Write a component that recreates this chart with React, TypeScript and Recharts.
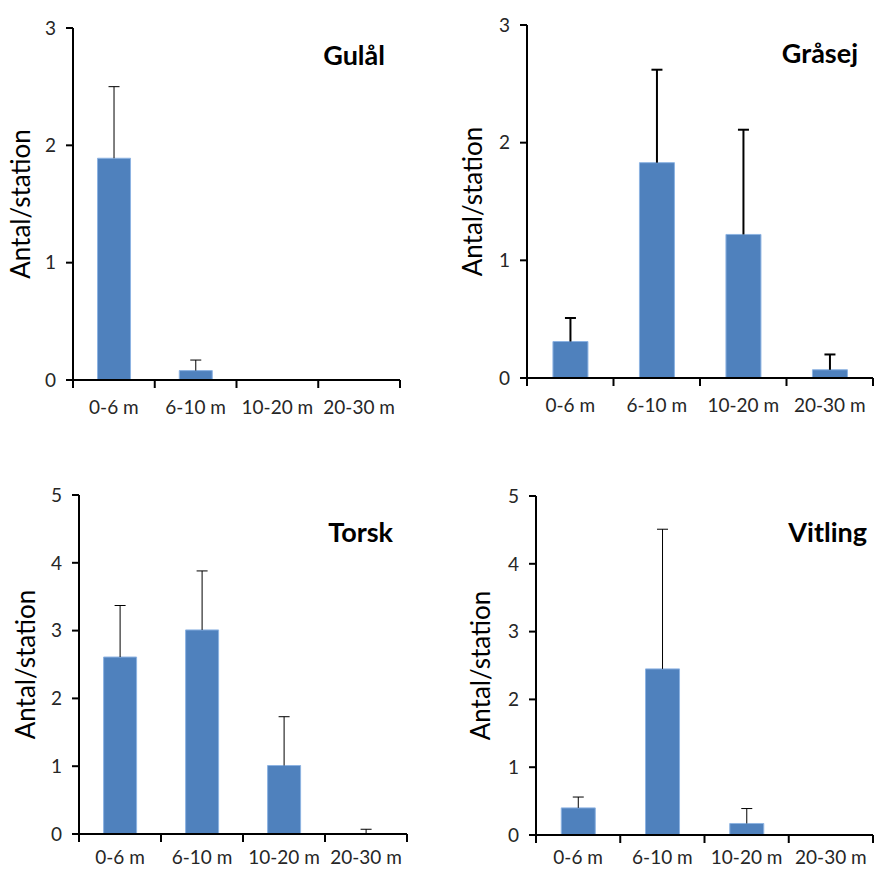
import { Bar, BarChart, XAxis, YAxis } from "recharts"

const depths = ["0-6 m", "6-10 m", "10-20 m", "20-30 m"]

const gulalMean = [1.89, 0.08, 0, 0]
const gulalErr = [0.61, 0.09, 0, 0]
const grasejMean = [0.31, 1.83, 1.22, 0.07]
const grasejErr = [0.2, 0.79, 0.89, 0.13]
const torskMean = [2.61, 3.01, 1.01, 0]
const torskErr = [0.76, 0.87, 0.72, 0.07]
const vitlingMean = [0.4, 2.45, 0.17, 0]
const vitlingErr = [0.16, 2.06, 0.22, 0]

const ticks3 = [0, 1, 2, 3]
const ticks5 = [0, 1, 2, 3, 4, 5]

const toRows = (mean: number[], err: number[]) =>
  depths.map((name, i) => ({ name, value: mean[i], err: err[i] }))

// upper whisker only, drawn on top of the stacked mean bar
const Whisker = (props: any) => {
  const { x, y, width, height, sw } = props
  if (!height || height <= 0) return null
  const cx = x + width / 2
  return (
    <g stroke="#000" strokeWidth={sw}>
      <line x1={cx} y1={y} x2={cx} y2={y + height} />
      <line x1={cx - 5.5} y1={y} x2={cx + 5.5} y2={y} />
    </g>
  )
}

// category label plus tick marks on the band edges
const DepthTick = (props: any) => {
  const { x, y, payload, index, gap } = props
  const half = payload.offset || 0
  const axisY = y - gap
  return (
    <g>
      <line x1={x - half} y1={axisY} x2={x - half} y2={axisY + 8} stroke="#000" strokeWidth={2} />
      {index === depths.length - 1 && (
        <line x1={x + half} y1={axisY} x2={x + half} y2={axisY + 8} stroke="#000" strokeWidth={2} />
      )}
      <text x={x} y={y} dy="0.71em" textAnchor="middle" fontSize={19} fill="#262626">
        {payload.value}
      </text>
    </g>
  )
}

type PanelProps = {
  title: string
  rows: { name: string; value: number; err: number }[]
  yTicks: number[]
  left: number
  top: number
  w: number
  h: number
  axisX: number
  plotTop: number
  plotBottom: number
  plotRight: number
  labelX: number
  titleRight: number
  titleBase: number
  sw: number
  gap: number
}

const Panel = (p: PanelProps) => {
  const xh = 34
  return (
    <div style={{ position: "absolute", left: p.left, top: p.top, width: p.w, height: p.h }}>
      <BarChart
        width={p.w}
        height={p.h}
        data={p.rows}
        barCategoryGap="30%"
        margin={{ top: p.plotTop, right: p.w - p.plotRight, left: 0, bottom: p.h - p.plotBottom - xh }}
      >
        <XAxis
          dataKey="name"
          height={xh}
          tickLine={false}
          tickSize={0}
          tickMargin={p.gap}
          axisLine={{ stroke: "#000", strokeWidth: 2 }}
          tick={<DepthTick gap={p.gap} />}
          interval={0}
        />
        <YAxis
          width={p.axisX}
          domain={[0, p.yTicks[p.yTicks.length - 1]]}
          ticks={p.yTicks}
          allowDecimals={false}
          axisLine={{ stroke: "#000", strokeWidth: 2 }}
          tickLine={{ stroke: "#000", strokeWidth: 2 }}
          tickSize={7}
          tickMargin={10}
          tick={{ fontSize: 19, fill: "#262626" }}
          label={{
            value: "Antal/station",
            angle: -90,
            position: "insideLeft",
            offset: p.labelX,
            style: { textAnchor: "middle", fontSize: 26, fill: "#000" },
          }}
        />
        <Bar dataKey="value" stackId="s" fill="#4F81BD" stroke="#8DB3E2" strokeWidth={1} isAnimationActive={false} />
        <Bar dataKey="err" stackId="s" fill="none" shape={<Whisker sw={p.sw} />} isAnimationActive={false} />
      </BarChart>
      <svg width={p.w} height={p.h} style={{ position: "absolute", left: 0, top: 0, pointerEvents: "none" }}>
        <text x={p.titleRight} y={p.titleBase} textAnchor="end" fontSize={27} fontWeight="bold" fill="#000">
          {p.title}
        </text>
      </svg>
    </div>
  )
}

const App = () => {
  return (
    <div
      style={{
        position: "absolute",
        left: 0,
        top: 0,
        width: 875,
        height: 870,
        overflow: "hidden",
        background: "#fff",
        fontFamily: "Lato, 'Open Sans', sans-serif",
      }}
    >
      <Panel
        title="Gulål" rows={toRows(gulalMean, gulalErr)} yTicks={ticks3}
        left={0} top={0} w={440} h={440}
        axisX={73} plotTop={28} plotBottom={380} plotRight={400}
        labelX={21} titleRight={385} titleBase={65} sw={1} gap={21}
      />
      <Panel
        title="Gråsej" rows={toRows(grasejMean, grasejErr)} yTicks={ticks3}
        left={440} top={0} w={435} h={440}
        axisX={87} plotTop={25} plotBottom={378} plotRight={433}
        labelX={33} titleRight={418} titleBase={63} sw={2} gap={21}
      />
      <Panel
        title="Torsk" rows={toRows(torskMean, torskErr)} yTicks={ticks5}
        left={0} top={450} w={440} h={420}
        axisX={79} plotTop={45} plotBottom={384} plotRight={407}
        labelX={26} titleRight={393} titleBase={92} sw={1} gap={17}
      />
      <Panel
        title="Vitling" rows={toRows(vitlingMean, vitlingErr)} yTicks={ticks5}
        left={440} top={450} w={435} h={420}
        axisX={96} plotTop={46} plotBottom={385} plotRight={433}
        labelX={41} titleRight={427} titleBase={92} sw={1} gap={16}
      />
    </div>
  )
}

export default App
